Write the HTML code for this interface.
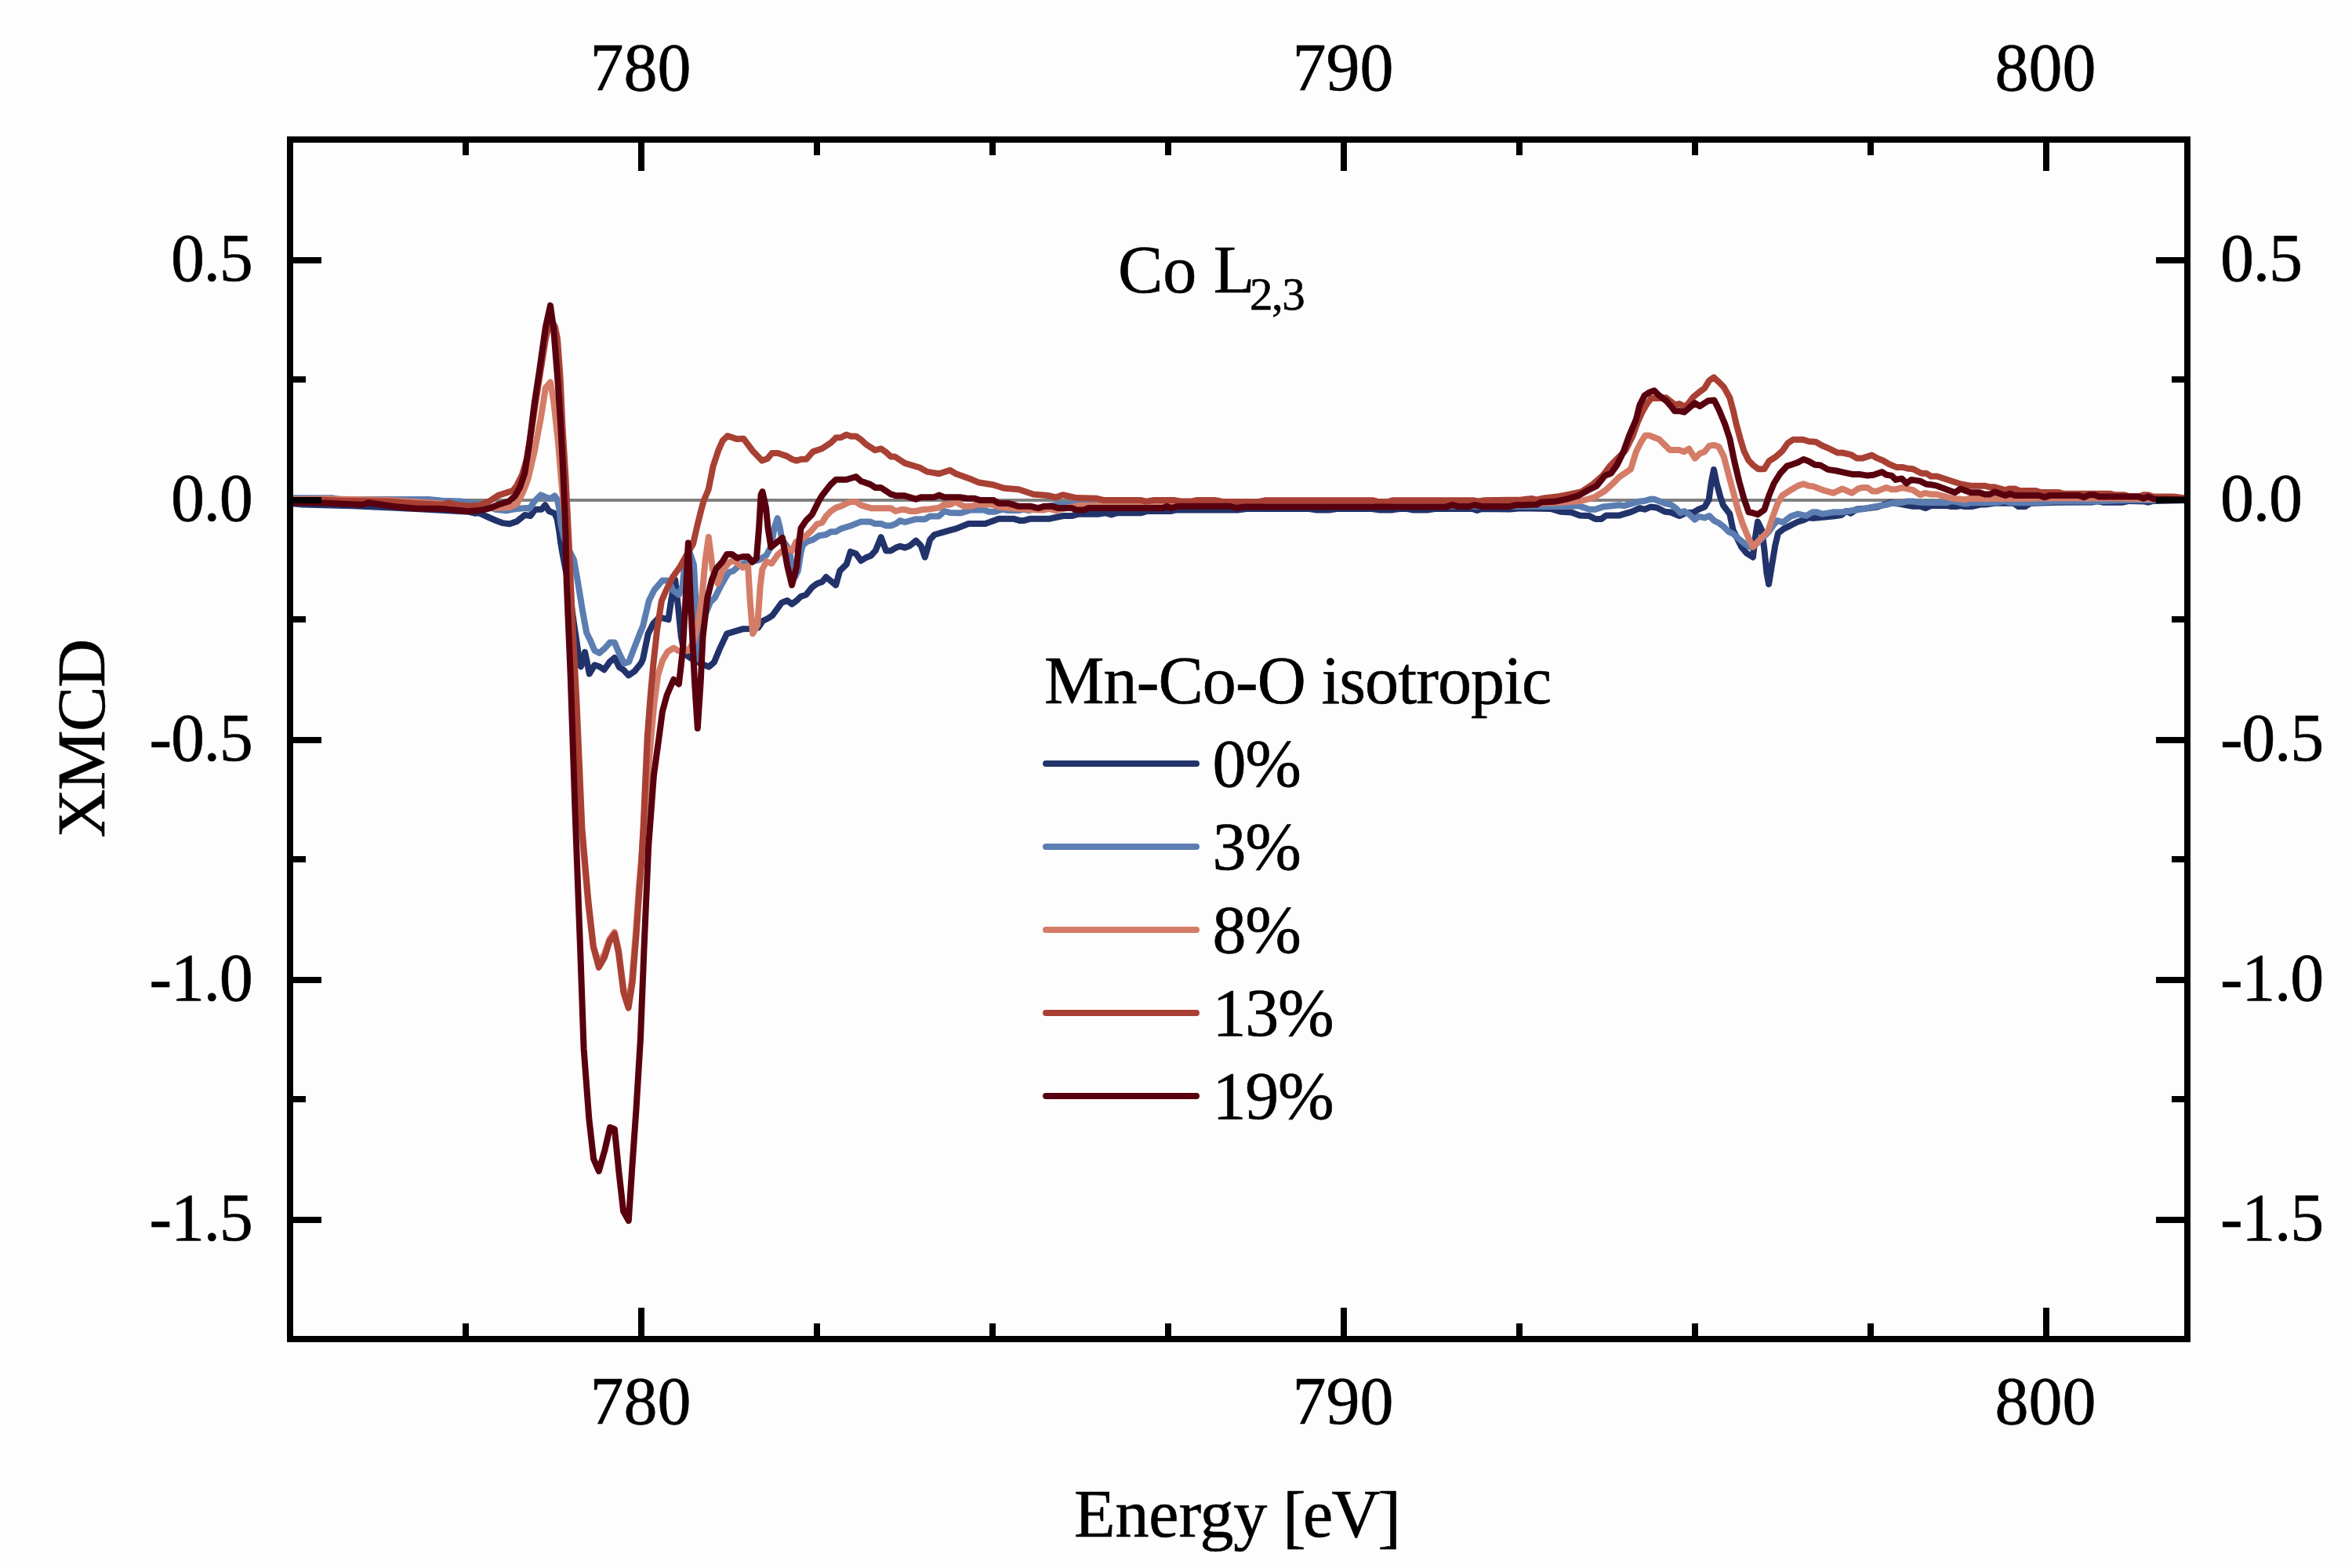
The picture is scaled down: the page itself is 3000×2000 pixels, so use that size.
<!DOCTYPE html><html><head><meta charset="utf-8"><title>XMCD Co L2,3</title>
<style>html,body{margin:0;padding:0;background:#fff}svg{display:block}text{font-family:"Liberation Serif",serif;fill:#000;stroke:#000;stroke-width:0.6px}</style></head><body>
<svg width="3000" height="2000" viewBox="0 0 3000 2000">
<rect width="3000" height="2000" fill="#fdfdfd"/>
<clipPath id="c"><rect x="370" y="178" width="2420" height="1530"/></clipPath>
<line x1="370" y1="638" x2="2790" y2="638" stroke="#808080" stroke-width="4"/>
<g clip-path="url(#c)" fill="none" stroke-width="8" stroke-linejoin="round" stroke-linecap="round">
<polyline stroke="#21336a" points="370.0,642.0 385.5,643.4 450.0,645.2 530.0,649.0 598.0,652.8 606.6,654.8 610.2,653.9 622.4,659.5 632.7,664.0 640.8,667.1 650.0,668.2 659.2,665.1 669.4,656.9 676.5,658.0 682.7,649.8 690.8,649.8 695.3,644.2 700.4,652.0 707.6,654.9 710.6,662.0 713.2,677.3 715.2,692.7 718.6,712.0 725.0,745.0 732.0,795.0 740.0,849.0 741.0,850.2 746.1,831.8 751.8,859.4 758.4,848.2 764.5,850.2 770.6,854.3 777.8,844.1 783.9,839.0 790.0,851.2 795.1,854.3 801.8,861.4 809.4,856.3 817.6,846.1 820.0,840.9 826.7,808.4 833.4,795.0 841.0,787.3 852.5,790.2 856.3,764.4 861.1,739.5 865.0,774.0 868.8,812.2 872.6,831.3 877.4,837.0 885.0,841.8 896.5,847.6 904.2,850.4 910.9,844.7 917.6,828.4 927.1,808.4 938.6,804.9 947.2,802.3 955.8,802.0 967.0,800.6 973.0,792.0 980.0,788.5 985.1,785.1 997.2,768.7 1004.1,766.1 1010.1,770.4 1016.1,766.1 1021.3,761.0 1028.2,758.4 1035.9,748.9 1042.0,744.6 1048.8,742.0 1053.7,736.0 1066.1,746.3 1071.2,728.2 1079.8,719.6 1084.8,703.7 1091.8,706.2 1098.2,715.2 1104.5,711.3 1110.9,708.8 1116.7,702.4 1123.7,685.2 1130.1,702.4 1136.4,702.4 1142.8,698.6 1147.9,696.7 1154.3,698.6 1160.7,696.0 1168.3,689.6 1174.7,696.0 1179.8,710.7 1186.2,688.4 1191.9,682.0 1211.7,676.3 1220.0,674.1 1235.3,668.0 1256.7,668.0 1273.6,661.8 1293.5,661.8 1301.1,664.1 1305.7,664.1 1313.4,661.8 1337.9,661.8 1348.6,659.5 1356.2,658.0 1367.0,658.0 1376.1,655.7 1400.6,655.7 1409.8,654.2 1417.5,656.5 1425.1,654.2 1455.7,654.2 1463.4,651.9 1494.0,651.9 1500.1,650.4 1580.0,650.4 1590.0,649.0 1670.0,649.0 1680.0,650.5 1695.0,650.5 1705.0,649.0 1750.0,649.0 1760.0,650.5 1775.0,650.5 1785.0,649.0 1795.0,649.0 1803.0,650.5 1820.0,650.5 1830.0,649.0 1878.0,649.0 1884.0,651.0 1890.0,649.0 1925.0,649.5 1940.0,648.2 1978.3,648.9 1990.5,652.8 2004.3,653.5 2015.0,657.4 2027.3,658.1 2034.9,662.0 2042.6,662.0 2048.7,657.4 2065.5,657.4 2080.8,652.8 2091.5,648.2 2097.7,649.7 2105.3,646.6 2113.0,647.4 2123.7,652.8 2131.3,653.5 2142.0,658.1 2149.7,654.3 2160.4,653.5 2166.5,649.7 2174.2,646.6 2179.6,637.5 2182.6,616.0 2186.0,599.0 2189.5,616.0 2194.1,632.9 2197.9,644.3 2206.3,655.5 2210.6,676.2 2215.2,685.4 2221.3,697.7 2227.5,705.3 2235.9,710.7 2238.9,685.4 2242.0,665.5 2247.3,676.2 2250.4,700.7 2253.5,731.3 2256.1,745.1 2259.6,723.7 2264.2,696.1 2268.0,680.1 2274.9,674.7 2284.1,670.1 2293.3,665.5 2300.9,663.2 2307.0,660.2 2311.6,660.9 2337.7,658.6 2348.4,657.1 2355.3,651.7 2360.6,654.8 2368.3,649.4 2380.0,648.5 2395.0,646.5 2411.1,641.0 2425.0,643.0 2440.0,645.8 2449.2,645.8 2456.1,648.1 2463.0,645.0 2482.9,645.0 2489.0,646.1 2495.1,646.1 2501.2,645.0 2505.8,646.1 2515.0,646.1 2525.7,643.5 2531.8,643.5 2547.1,641.6 2568.6,641.9 2574.7,646.1 2583.1,646.1 2590.0,641.9 2623.7,640.7 2669.6,640.4 2675.7,639.2 2683.4,640.7 2707.9,640.7 2715.5,638.9 2735.4,639.6 2740.0,640.7 2746.1,638.9 2790.0,638.1"/>
<polyline stroke="#5b7db1" points="370.0,635.3 424.6,635.3 433.0,637.0 547.0,637.0 564.0,638.7 588.0,639.5 598.0,641.2 615.0,643.0 632.0,649.7 645.7,651.4 659.3,648.9 671.2,648.0 675.5,648.8 681.6,639.6 689.8,631.4 696.9,634.5 702.0,636.0 707.5,632.4 711.0,637.6 713.7,651.8 715.2,667.0 719.0,685.0 725.0,700.0 732.0,714.0 737.0,742.0 743.0,778.8 748.2,807.3 753.3,817.6 758.4,829.8 764.5,832.9 771.6,826.7 777.8,819.6 783.9,819.6 790.0,833.9 796.1,846.1 802.2,844.1 808.4,827.8 816.5,807.3 820.0,798.8 827.7,766.3 834.3,752.9 844.9,740.4 852.5,740.4 858.3,752.9 865.9,758.6 870.7,747.1 872.6,726.1 876.0,708.0 879.3,703.0 885.0,720.4 887.9,774.0 890.4,840.9 893.0,815.0 897.0,790.0 906.0,768.2 911.8,762.4 919.5,747.1 927.1,733.7 930.0,729.9 935.2,728.2 943.8,720.5 952.4,717.0 967.9,714.4 977.4,708.4 983.4,697.3 987.8,673.1 991.7,661.0 994.8,673.1 997.4,688.0 1004.1,697.2 1007.5,705.8 1011.0,728.2 1014.0,736.0 1017.8,728.2 1021.3,705.8 1023.9,695.5 1029.3,690.9 1036.9,688.4 1044.6,683.3 1053.5,682.0 1059.9,678.2 1066.3,678.2 1072.7,674.3 1085.4,670.5 1098.2,665.4 1109.6,665.4 1116.0,668.0 1123.7,668.0 1130.1,670.5 1136.4,670.5 1142.8,668.0 1147.9,664.1 1154.3,666.0 1168.3,662.2 1179.8,662.2 1186.2,658.4 1197.7,658.4 1204.7,652.0 1211.7,653.9 1220.0,654.2 1226.1,654.2 1238.4,650.4 1255.2,650.4 1261.3,652.7 1269.0,652.7 1278.2,649.6 1285.8,651.1 1299.6,651.1 1305.7,649.6 1311.8,651.1 1318.0,649.6 1335.0,646.0 1350.0,643.5 1403.7,643.5 1455.0,643.5 1500.0,644.5 1600.0,645.0 1800.0,645.5 1940.0,646.0 2001.2,645.9 2013.5,645.1 2027.3,649.7 2034.9,649.7 2044.1,646.6 2065.5,644.3 2071.6,645.1 2090.0,639.8 2097.7,639.0 2105.3,636.7 2109.9,636.7 2123.7,642.0 2131.3,643.6 2137.5,648.2 2143.6,654.3 2148.2,652.0 2154.3,655.8 2161.9,662.7 2166.5,658.9 2174.2,660.4 2180.3,658.1 2186.4,664.2 2192.2,667.0 2198.4,671.6 2204.5,677.8 2210.6,680.8 2218.3,687.7 2225.9,693.8 2232.0,697.7 2238.0,696.0 2248.9,685.4 2256.5,677.8 2262.7,668.6 2267.2,664.0 2274.1,666.3 2284.1,658.6 2293.3,655.6 2304.0,657.9 2311.6,653.3 2317.8,653.3 2323.9,655.6 2339.2,653.3 2349.9,653.3 2363.7,651.0 2379.0,648.7 2394.3,645.6 2405.0,644.1 2412.7,641.8 2421.8,641.8 2432.6,639.5 2440.2,639.5 2449.4,641.0 2482.9,641.2 2490.5,638.9 2505.8,642.7 2513.5,641.2 2547.1,641.2 2557.9,638.9 2562.5,641.2 2596.1,641.2 2623.7,639.6 2669.6,639.6 2715.5,638.1 2790.0,638.1"/>
<polyline stroke="#d47c67" points="370.0,637.0 416.0,636.3 496.0,638.0 560.0,642.0 600.0,646.0 632.0,648.0 649.0,647.2 659.3,642.9 667.3,627.3 673.5,611.0 681.6,576.3 689.8,533.5 695.9,494.7 702.0,487.6 706.1,511.0 711.5,560.0 716.7,621.0 719.5,650.0 722.5,690.0 725.0,742.0 730.0,850.0 733.0,900.0 738.5,1000.0 741.8,1056.0 745.6,1100.0 750.0,1151.0 756.5,1206.0 763.8,1229.0 771.0,1217.0 777.4,1198.0 783.8,1189.0 788.9,1211.0 795.3,1261.0 801.6,1280.0 806.0,1250.0 811.0,1189.0 815.0,1131.9 817.7,1100.0 821.5,1050.0 825.5,1000.0 830.5,940.0 834.3,898.3 839.1,861.9 844.9,842.8 851.6,831.3 859.2,826.5 865.9,830.4 872.0,831.0 878.4,829.4 885.0,818.0 890.8,793.0 895.6,758.6 899.4,716.5 903.8,685.0 909.0,726.0 915.7,744.3 921.4,728.0 930.0,717.5 935.2,714.4 947.2,723.9 954.1,722.2 956.7,766.1 960.1,808.3 966.2,797.1 969.6,748.9 972.2,726.5 977.4,716.2 984.3,718.8 992.0,707.6 1002.3,698.9 1010.1,702.4 1015.3,691.2 1026.7,684.5 1034.4,677.5 1042.0,668.6 1048.4,666.7 1054.2,657.8 1059.9,652.0 1066.3,647.6 1072.7,645.6 1080.3,641.8 1085.4,639.9 1091.8,639.9 1098.2,644.4 1110.9,648.2 1136.4,648.2 1142.2,652.0 1149.2,650.1 1154.3,650.1 1161.9,652.0 1168.3,652.0 1176.0,650.1 1184.9,649.5 1197.7,647.6 1204.0,643.7 1211.7,643.7 1219.3,639.9 1222.0,641.9 1229.2,645.8 1238.4,645.8 1246.0,643.5 1265.9,643.5 1273.6,646.5 1300.0,649.0 1324.1,650.4 1331.7,650.4 1337.9,648.8 1347.0,651.1 1360.0,648.0 1376.0,645.0 1438.9,644.2 1500.0,643.5 1600.0,643.0 1800.0,642.5 1940.0,642.0 1980.0,641.5 2016.5,639.0 2033.4,634.4 2047.1,626.0 2056.3,617.6 2065.5,608.4 2080.1,598.4 2086.9,576.2 2093.1,564.0 2098.4,555.6 2103.8,555.6 2116.0,560.2 2129.8,573.9 2142.0,573.9 2148.2,576.2 2154.3,572.4 2161.9,584.6 2168.1,578.5 2174.2,576.2 2180.3,568.6 2186.4,567.8 2192.6,570.1 2198.7,582.4 2204.8,605.3 2210.9,628.3 2217.1,651.2 2222.9,668.6 2230.5,686.9 2235.9,697.7 2244.3,688.5 2255.0,677.8 2261.1,659.4 2267.2,642.6 2273.4,631.8 2284.1,625.0 2293.3,619.6 2300.2,617.3 2307.0,619.6 2313.2,620.4 2326.9,625.7 2338.4,628.8 2349.9,623.4 2362.2,628.8 2369.8,623.4 2375.9,621.9 2382.0,621.9 2388.2,626.5 2394.3,626.5 2405.8,621.9 2412.7,624.2 2418.8,624.2 2426.4,621.9 2432.6,623.4 2440.2,625.1 2449.2,631.2 2455.3,628.9 2463.0,630.5 2470.6,630.5 2490.5,635.8 2505.8,637.3 2513.5,635.8 2568.6,636.2 2600.0,635.5 2700.0,635.5 2740.0,636.5 2790.0,637.5"/>
<polyline stroke="#a94034" points="370.0,638.0 410.0,637.8 436.5,638.7 496.0,639.5 530.0,642.1 564.0,643.8 572.6,641.2 581.0,643.8 598.0,645.5 611.7,644.6 625.3,638.7 635.5,631.9 654.2,625.9 659.3,619.1 666.0,605.5 672.0,585.0 678.0,548.0 684.0,508.0 690.0,470.0 696.0,432.0 700.0,415.0 704.0,410.0 708.0,417.0 711.0,432.0 714.5,480.0 717.5,545.0 721.5,610.0 725.5,690.0 730.0,790.0 735.7,900.0 742.4,1056.3 746.1,1100.0 750.6,1151.0 757.0,1208.4 763.8,1233.9 771.0,1221.2 777.4,1200.8 783.8,1191.2 788.9,1214.8 795.3,1265.8 801.6,1285.6 806.7,1253.0 811.8,1189.3 815.7,1131.9 818.2,1100.0 820.8,1050.0 823.0,1000.0 825.7,940.0 829.6,888.7 833.4,846.6 838.2,802.6 843.9,766.3 850.6,751.0 858.3,735.7 867.8,722.3 877.4,705.0 884.1,693.6 889.8,668.7 894.5,650.1 897.6,638.7 903.7,624.2 906.0,612.7 909.5,595.1 916.0,575.2 921.7,562.2 927.9,556.0 939.7,559.9 948.5,559.6 960.4,575.5 971.9,587.6 978.9,585.1 984.6,578.0 992.3,578.0 1003.8,581.9 1010.2,585.7 1015.9,587.6 1022.3,585.7 1028.6,585.7 1036.9,576.1 1048.4,572.3 1059.9,564.6 1066.3,558.3 1072.7,558.0 1079.7,554.4 1085.4,556.4 1091.8,556.4 1098.2,560.8 1104.5,566.6 1116.0,574.2 1123.7,572.3 1130.1,576.8 1136.4,582.5 1141.5,582.5 1154.3,590.8 1173.4,596.5 1182.3,601.6 1190.0,602.9 1197.7,604.2 1211.7,599.7 1219.3,604.2 1240.0,611.8 1247.6,615.2 1265.9,618.2 1281.2,622.8 1299.6,624.3 1318.0,630.5 1336.3,632.0 1347.0,634.3 1355.5,631.2 1373.1,635.1 1399.1,635.8 1408.3,638.1 1455.7,638.1 1461.8,639.6 1471.0,638.1 1498.6,638.1 1507.8,639.6 1518.5,639.6 1526.1,638.1 1550.6,638.1 1561.3,640.1 1605.0,640.2 1613.0,638.3 1752.0,638.3 1758.0,640.0 1770.0,640.0 1776.0,638.3 1880.0,638.3 1886.0,639.5 1892.0,638.3 1940.0,637.5 1953.8,635.9 1959.9,637.5 1970.6,635.2 1985.9,633.6 2001.2,630.6 2016.5,627.5 2031.8,617.6 2044.1,606.8 2053.3,594.6 2062.5,585.4 2073.2,574.7 2082.4,556.3 2088.5,539.5 2094.6,525.7 2100.7,515.0 2106.1,508.1 2116.0,508.1 2125.2,507.3 2132.9,513.5 2137.5,516.5 2142.0,515.0 2149.7,518.8 2154.3,513.5 2160.4,505.8 2168.1,499.7 2174.2,495.1 2180.3,485.2 2186.0,481.3 2192.6,487.5 2198.7,493.6 2206.3,507.3 2210.9,524.2 2214.4,540.0 2219.8,559.9 2224.4,575.2 2230.5,587.5 2236.6,593.6 2242.8,598.2 2250.4,598.2 2256.5,588.2 2265.7,582.1 2273.4,575.2 2280.3,565.3 2287.1,560.7 2299.4,560.7 2307.0,563.0 2316.2,563.7 2323.9,568.3 2333.1,572.1 2343.8,577.5 2349.9,577.5 2360.6,579.8 2368.3,584.4 2375.9,584.4 2387.4,580.6 2394.3,584.4 2402.0,587.5 2409.6,592.0 2418.8,595.9 2426.4,595.9 2432.6,597.4 2440.2,598.2 2450.7,603.7 2456.8,603.7 2463.0,607.5 2470.6,607.5 2501.2,617.5 2513.5,619.7 2531.8,619.7 2538.0,621.3 2544.1,621.3 2557.9,625.1 2562.5,623.6 2570.1,623.6 2576.2,625.9 2596.1,625.9 2602.3,627.9 2625.2,627.9 2631.3,629.7 2691.0,629.7 2697.2,631.2 2709.4,631.2 2715.5,633.1 2729.3,633.1 2733.9,631.2 2740.0,631.2 2746.1,633.5 2772.2,633.5 2790.0,635.8"/>
<polyline stroke="#59000f" points="370.0,641.0 410.0,641.5 462.0,643.8 470.0,641.2 504.6,646.3 530.0,648.4 564.0,648.9 598.0,652.3 615.0,650.6 625.3,648.0 635.5,643.8 649.0,639.5 657.1,632.4 663.3,621.2 669.4,602.9 675.5,564.1 681.6,515.1 687.8,474.3 695.9,417.1 702.0,389.6 706.1,419.2 711.2,482.4 715.3,543.7 718.4,604.9 721.4,680.0 722.7,742.0 727.8,864.5 729.0,900.0 733.5,1033.9 740.2,1212.5 744.6,1337.5 751.3,1426.8 757.1,1478.1 763.8,1493.8 771.4,1467.0 778.1,1438.0 783.9,1440.2 789.3,1493.8 795.1,1545.1 801.8,1557.1 806.3,1489.3 811.6,1413.4 817.0,1324.1 821.4,1212.5 827.2,1078.6 833.9,989.3 840.6,940.2 844.9,907.8 850.6,886.8 859.2,866.7 865.9,872.4 870.7,831.3 874.5,764.4 877.8,692.6 881.2,773.9 886.0,869.6 889.8,928.9 893.7,869.6 896.5,812.2 902.3,762.4 908.0,739.5 913.7,725.1 921.4,716.5 927.1,707.0 933.8,707.0 940.3,711.9 947.7,710.0 954.0,710.0 959.6,717.0 965.0,712.0 968.1,673.1 970.6,631.0 972.5,627.1 977.0,647.6 979.5,673.1 983.4,697.9 991.0,691.6 998.0,686.0 1004.1,721.3 1010.1,746.3 1016.1,723.0 1019.1,692.2 1021.6,673.7 1028.0,664.1 1035.7,656.5 1044.6,638.6 1048.4,632.2 1059.3,618.2 1066.3,611.8 1079.7,611.8 1091.8,608.0 1098.2,613.8 1109.6,617.6 1116.7,622.0 1123.7,622.0 1136.4,630.3 1142.8,632.2 1153.0,632.2 1168.3,636.7 1174.7,634.2 1191.3,634.2 1197.7,631.6 1204.7,634.2 1224.4,634.2 1233.8,635.8 1243.0,635.8 1250.6,638.1 1267.5,638.1 1273.6,641.9 1285.8,641.9 1299.6,645.8 1314.9,645.8 1324.1,648.1 1331.7,645.8 1342.5,645.8 1350.1,648.1 1367.0,648.1 1373.1,650.4 1382.3,650.4 1388.4,648.1 1483.3,648.1 1487.9,645.8 1494.0,648.1 1501.7,645.8 1569.0,645.8 1577.0,648.0 1587.0,646.4 1845.0,646.4 1852.0,644.0 1860.0,646.0 1874.0,646.0 1881.0,644.0 1890.0,646.0 1925.0,646.0 1936.0,643.8 1940.0,644.3 1959.9,643.6 1966.0,640.5 1982.9,639.8 1998.2,636.7 2013.5,632.1 2025.7,625.2 2036.4,619.9 2047.1,606.8 2054.8,603.8 2062.5,593.1 2070.1,577.8 2077.8,556.3 2086.9,534.9 2091.5,516.5 2097.7,504.3 2103.8,500.5 2109.9,498.2 2116.0,504.3 2125.2,511.2 2131.3,518.1 2135.9,524.2 2142.0,524.2 2148.2,525.7 2154.3,520.4 2161.9,514.2 2168.1,518.1 2178.8,511.2 2186.4,510.4 2192.6,522.7 2200.2,541.0 2206.3,559.4 2212.1,588.0 2218.3,614.0 2224.4,636.0 2230.5,653.3 2235.1,654.0 2242.0,656.3 2250.4,650.2 2256.5,631.8 2262.7,616.5 2270.3,604.3 2279.5,594.3 2287.1,592.0 2293.3,589.7 2300.2,585.9 2307.0,588.2 2314.7,592.8 2322.4,593.6 2331.5,598.9 2342.3,600.5 2353.0,602.8 2363.7,605.1 2372.9,605.1 2382.0,606.6 2389.7,605.8 2400.4,602.0 2406.5,605.8 2412.7,606.6 2418.0,611.9 2425.7,610.4 2431.8,616.5 2437.9,611.9 2449.2,613.6 2456.8,617.5 2463.0,618.2 2470.6,619.7 2493.6,628.2 2500.5,623.6 2513.5,628.2 2524.2,628.2 2531.8,630.5 2538.0,630.5 2544.1,627.4 2557.9,632.0 2564.0,629.7 2570.1,632.0 2600.7,632.0 2608.4,634.3 2614.5,632.0 2651.2,632.0 2658.1,634.3 2665.0,631.2 2671.1,631.2 2677.3,633.5 2727.8,633.5 2733.9,635.8 2740.0,633.5 2747.7,636.6 2790.0,637.3"/>
</g>
<g stroke="#000" stroke-width="8" fill="none">
<rect x="370" y="178" width="2420" height="1530"/>
<path d="M594.0 178v20M594.0 1708v-20M818.0 178v40M818.0 1708v-40M1042.0 178v20M1042.0 1708v-20M1266.0 178v20M1266.0 1708v-20M1490.0 178v20M1490.0 1708v-20M1714.0 178v40M1714.0 1708v-40M1938.0 178v20M1938.0 1708v-20M2162.0 178v20M2162.0 1708v-20M2386.0 178v20M2386.0 1708v-20M2610.0 178v40M2610.0 1708v-40M370 1556.0h40M2790 1556.0h-40M370 1402.0h20M2790 1402.0h-20M370 1250.0h40M2790 1250.0h-40M370 1096.0h20M2790 1096.0h-20M370 944.0h40M2790 944.0h-40M370 790.0h20M2790 790.0h-20M370 638.0h40M2790 638.0h-40M370 484.0h20M2790 484.0h-20M370 332.0h40M2790 332.0h-40"/>
</g>
<g font-size="86">
<text x="817.0" y="114.5" text-anchor="middle">780</text>
<text x="817.0" y="1815.5" text-anchor="middle">780</text>
<text x="1713.0" y="114.5" text-anchor="middle">790</text>
<text x="1713.0" y="1815.5" text-anchor="middle">790</text>
<text x="2609.0" y="114.5" text-anchor="middle">800</text>
<text x="2609.0" y="1815.5" text-anchor="middle">800</text>
<text x="321.5" y="358.3" text-anchor="end" letter-spacing="-1.3">0.5</text>
<text x="2832" y="358.3" letter-spacing="-1.3">0.5</text>
<text x="321.5" y="664.3" text-anchor="end" letter-spacing="-1.3">0.0</text>
<text x="2832" y="664.3" letter-spacing="-1.3">0.0</text>
<text x="321.5" y="970.3" text-anchor="end" letter-spacing="-1.3">-0.5</text>
<text x="2832" y="970.3" letter-spacing="-1.3">-0.5</text>
<text x="321.5" y="1276.3" text-anchor="end" letter-spacing="-1.3">-1.0</text>
<text x="2832" y="1276.3" letter-spacing="-1.3">-1.0</text>
<text x="321.5" y="1582.3" text-anchor="end" letter-spacing="-1.3">-1.5</text>
<text x="2832" y="1582.3" letter-spacing="-1.3">-1.5</text>
<text x="1370" y="1960" letter-spacing="-0.1">Energy</text><text x="1636" y="1960"><tspan font-size="89.8" dy="3.6">[</tspan><tspan dy="-3.6" dx="-3.8">e</tspan><tspan dx="-1.7">V</tspan><tspan font-size="89.8" dy="3.6" dx="-3.5">]</tspan></text>
<text transform="translate(133,1068.5) rotate(-90)" letter-spacing="-1.5">XMCD</text>
<text x="1426" y="372.5">Co L</text><text x="1594" y="395.2" font-size="59" letter-spacing="-1.5">2,3</text>
<text x="1332" y="897" letter-spacing="-0.9">Mn-Co-O isotropic</text>
<line x1="1334" y1="974" x2="1526" y2="974" stroke="#21336a" stroke-width="8" stroke-linecap="round"/>
<text x="1546.5" y="1002.5" letter-spacing="-1.2">0%</text>
<line x1="1334" y1="1080" x2="1526" y2="1080" stroke="#5b7db1" stroke-width="8" stroke-linecap="round"/>
<text x="1546.5" y="1108.5" letter-spacing="-1.2">3%</text>
<line x1="1334" y1="1186" x2="1526" y2="1186" stroke="#d47c67" stroke-width="8" stroke-linecap="round"/>
<text x="1546.5" y="1214.5" letter-spacing="-1.2">8%</text>
<line x1="1334" y1="1292" x2="1526" y2="1292" stroke="#a94034" stroke-width="8" stroke-linecap="round"/>
<text x="1546.5" y="1320.5" letter-spacing="-1.2">13%</text>
<line x1="1334" y1="1398" x2="1526" y2="1398" stroke="#59000f" stroke-width="8" stroke-linecap="round"/>
<text x="1546.5" y="1426.5" letter-spacing="-1.2">19%</text>
</g></svg></body></html>
